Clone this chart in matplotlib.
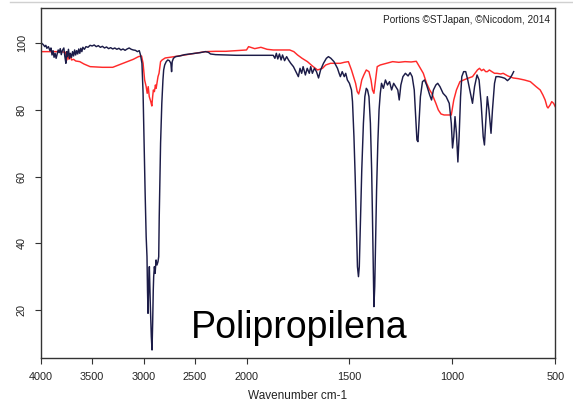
import matplotlib
matplotlib.use('Agg')
import matplotlib.pyplot as plt
from matplotlib.lines import Line2D
import numpy as np

# polypropylene sample spectrum (dark line)
pp_wn = [3990, 3975, 3960, 3950, 3940, 3925, 3910, 3900, 3890, 3880, 3870, 3860, 3850, 3840,
         3830, 3820, 3810, 3800, 3790, 3775, 3765, 3755, 3748, 3740, 3730, 3720, 3712, 3700,
         3690, 3680, 3670, 3660, 3650, 3640, 3630, 3620, 3610, 3600, 3590, 3575, 3560, 3540,
         3520, 3500, 3480, 3460, 3440, 3420, 3400, 3380, 3360, 3340, 3320, 3300, 3280, 3260,
         3240, 3220, 3200, 3180, 3160, 3140, 3120, 3100, 3080, 3060, 3042, 3030, 3016, 3005,
         2995, 2985, 2975, 2967, 2962, 2957, 2950, 2944, 2935, 2925, 2918, 2912, 2906, 2902,
         2895, 2888, 2879, 2870, 2860, 2853, 2848, 2843, 2835, 2823, 2812, 2805, 2795, 2780,
         2765, 2750, 2735, 2728, 2722, 2710, 2690, 2650, 2600, 2550, 2500, 2450, 2400, 2370,
         2350, 2300, 2200, 2100, 2000, 1900, 1870, 1862, 1855, 1848, 1840, 1832, 1825, 1815,
         1805, 1796, 1785, 1772, 1760, 1748, 1740, 1732, 1725, 1714, 1705, 1695, 1688, 1680,
         1670, 1660, 1650, 1640, 1626, 1612, 1602, 1590, 1575, 1558, 1550, 1544, 1535, 1525,
         1518, 1510, 1500, 1490, 1485, 1478, 1472, 1466, 1461, 1456, 1452, 1446, 1440, 1432,
         1425, 1418, 1412, 1405, 1398, 1392, 1388, 1384, 1381, 1377, 1373, 1368, 1362, 1356,
         1350, 1344, 1335, 1325, 1315, 1305, 1295, 1285, 1275, 1265, 1258, 1250, 1240, 1228,
         1215, 1205, 1195, 1185, 1178, 1172, 1167, 1162, 1155, 1145, 1135, 1125, 1110, 1101,
         1092, 1080, 1071, 1060, 1045, 1030, 1015, 1005, 999, 993, 987, 980, 973, 967,
         960, 954, 945, 935, 925, 915, 902, 892, 880, 870, 860, 850, 844, 838,
         830, 822, 812, 805, 795, 788, 775, 760, 745, 732, 720, 710, 702]
pp_t = [100.0, 99.6, 99.0, 99.4, 98.5, 99.0, 97.8, 98.6, 96.5, 97.8, 95.8, 97.0, 95.5, 96.8,
        98.0, 97.2, 98.4, 96.6, 97.8, 98.6, 96.0, 94.0, 97.5, 96.0, 98.2, 95.5, 97.0, 95.8,
        97.5, 96.2, 98.0, 96.5, 97.8, 96.8, 98.3, 97.0, 98.5, 97.5, 98.8, 98.2, 99.0, 98.8,
        99.4, 99.2, 99.5, 99.0, 99.3, 98.8, 99.1, 98.6, 98.9, 98.4, 98.7, 98.3, 98.6, 98.2,
        98.5, 98.0, 98.3, 97.9, 98.3, 98.6, 98.2, 98.0, 97.9, 97.5, 97.8, 96.5, 94.0, 85.0,
        70.0, 55.0, 42.0, 36.0, 26.0, 19.0, 28.0, 33.0, 22.0, 12.0, 8.0, 16.0, 26.0, 30.0,
        33.0, 31.0, 35.0, 33.5, 34.5, 36.0, 48.0, 57.0, 70.0, 82.0, 89.0, 92.0, 93.5, 94.5,
        95.0, 94.8, 94.0, 91.5, 94.5, 95.5, 96.0, 96.2, 96.6, 96.8, 97.0, 97.2, 97.5, 97.3,
        96.8, 96.6, 96.5, 96.4, 96.4, 96.4, 96.4, 95.5, 97.0, 95.3, 96.8, 95.0, 96.5, 94.8,
        96.0, 95.0, 94.0, 93.0, 91.5, 90.0, 92.5, 91.0, 93.0, 90.5, 92.5, 91.0, 93.0, 91.0,
        92.5, 91.5, 89.6, 92.0, 94.0, 95.5, 96.0, 95.5, 94.5, 92.5, 91.0, 90.0, 91.5, 90.0,
        91.0, 89.0, 88.0, 86.0, 82.5, 72.0, 60.0, 45.0, 33.0, 30.0, 33.0, 48.0, 62.0, 76.0,
        84.0, 86.5, 86.0, 84.0, 76.0, 62.0, 48.0, 32.0, 21.0, 27.0, 40.0, 56.0, 70.0, 80.0,
        85.0, 88.0, 86.5, 89.0, 87.5, 88.5, 86.0, 88.0, 87.0, 86.0, 83.0, 87.5, 90.0, 91.0,
        90.2, 91.2, 90.0, 86.0, 78.0, 71.0, 70.5, 76.0, 84.0, 88.5, 89.0, 87.5, 84.5, 83.0,
        86.0, 87.5, 88.0, 87.0, 85.0, 84.0, 82.0, 76.0, 68.6, 72.0, 78.0, 73.0, 64.4, 72.0,
        84.0, 90.0, 91.5, 91.5, 89.0, 86.0, 82.0, 87.0, 90.5, 89.0, 82.0, 72.0, 69.5, 76.0,
        84.0, 80.0, 73.0, 80.0, 88.0, 90.0, 90.0, 89.8, 89.5, 88.8, 89.5, 90.5, 91.5]

# reference spectrum (red line)
ref_wn = [4000, 3900, 3800, 3760, 3745, 3735, 3725, 3715, 3700, 3680, 3660, 3620, 3580, 3520,
          3400, 3300, 3200, 3100, 3050, 3020, 3005, 2990, 2975, 2965, 2955, 2945, 2930, 2920,
          2912, 2905, 2895, 2885, 2878, 2870, 2860, 2850, 2835, 2820, 2790, 2700, 2600, 2500,
          2400, 2300, 2200, 2100, 2000, 1990, 1960, 1930, 1900, 1870, 1820, 1790, 1770, 1752,
          1730, 1704, 1680, 1655, 1640, 1631, 1615, 1592, 1570, 1544, 1525, 1505, 1490, 1480,
          1470, 1462, 1455, 1448, 1440, 1430, 1418, 1405, 1395, 1388, 1381, 1375, 1365, 1350,
          1320, 1290, 1260, 1230, 1200, 1175, 1160, 1141, 1125, 1110, 1100, 1080, 1068, 1055,
          1040, 1020, 1005, 993, 980, 963, 945, 925, 902, 890, 878, 868, 858, 848,
          838, 830, 820, 808, 795, 783, 765, 753, 730, 704, 680, 650, 621, 593,
          573, 560, 549, 540, 535, 525, 517, 508, 500]
ref_t = [97.5, 97.5, 97.5, 97.3, 95.0, 96.8, 95.2, 96.5, 95.0, 95.2, 94.7, 94.5, 93.8, 93.0,
         92.8, 92.8, 94.0, 95.2, 96.0, 96.2, 94.0, 89.0, 87.0, 85.0, 87.0, 84.0, 82.5, 81.2,
         84.0, 86.0, 85.5, 87.5, 86.5, 88.0, 90.0, 91.0, 94.5, 95.0, 95.6, 96.0, 96.5, 97.0,
         97.5, 97.6, 97.6, 97.8, 98.0, 99.0, 98.4, 98.8, 98.2, 98.0, 98.0, 98.0, 97.5, 96.5,
         95.5, 94.5, 93.2, 92.0, 92.3, 92.5, 93.5, 94.0, 94.0, 94.0, 94.3, 94.5, 92.0, 90.0,
         88.0, 85.5, 84.8, 86.5, 89.0, 90.5, 92.0, 91.5, 89.0, 86.0, 85.0, 88.0, 93.0, 93.5,
         94.0, 94.5, 94.3, 94.5, 94.4, 94.6, 93.0, 91.0, 88.0, 86.0, 85.0, 82.0, 80.0, 78.8,
         78.5, 78.5, 78.5, 83.0, 86.0, 88.5, 89.0, 89.5, 90.0, 91.0, 92.0, 92.5, 91.8, 92.2,
         91.5, 91.5, 92.0, 91.5, 91.0, 91.0, 90.8, 91.0, 90.2, 89.6, 89.4, 89.0, 88.5, 87.0,
         86.0, 84.5, 83.0, 81.0, 80.6, 81.5, 82.5, 82.0, 81.0]

x_ticks = [4000, 3500, 3000, 2500, 2000, 1500, 1000, 500]
y_ticks = [20, 40, 60, 80, 100]

plt.rcParams['font.family'] = ['Liberation Sans', 'DejaVu Sans']


# IR convention: region above 2000 cm-1 is drawn at half scale
def fwd(w):
    w = np.asarray(w, dtype=float)
    return np.where(w > 2000, 2000 + (w - 2000) / 2.0, w)


def inv(t):
    t = np.asarray(t, dtype=float)
    return np.where(t > 2000, 2000 + (t - 2000) * 2.0, t)


fig = plt.figure(figsize=(5.73, 4.09), dpi=100)
ax = fig.add_axes([0.071, 0.1247, 0.898, 0.855])
ax.set_xscale('function', functions=(fwd, inv))

ax.plot(ref_wn, ref_t, color='#ff2a2a', lw=1.05)
ax.plot(pp_wn, pp_t, color='#1c1c48', lw=1.05)

ax.set_xlim(4000, 500)
ax.set_ylim(5.6, 110.5)
ax.set_xticks(x_ticks)
ax.set_xticklabels([str(v) for v in x_ticks])
ax.set_yticks(y_ticks)
ax.set_yticklabels([str(v) for v in y_ticks])
ax.minorticks_off()

ax.tick_params(axis='both', direction='out', length=4, width=0.8, colors='#333333',
               labelsize=7.8, labelcolor='#222222')
ax.tick_params(axis='x', pad=6)
ax.tick_params(axis='y', labelrotation=90, pad=6)
for lab in ax.get_yticklabels():
    lab.set_va('center')

for s in ax.spines.values():
    s.set_color('#333333')
    s.set_linewidth(1.0)

ax.set_xlabel('Wavenumber cm-1', fontsize=8.5, color='#222222', labelpad=6)

ax.text(0.99, 0.966, 'Portions \u00a9STJapan, \u00a9Nicodom, 2014', transform=ax.transAxes,
        ha='right', va='center', fontsize=7.2, color='#222222')
ax.text(0.292, 0.057, 'Polipropilena', transform=ax.transAxes, ha='left', va='baseline',
        fontsize=27, color='black')

# thin light frame line along the top of the picture
fig.add_artist(Line2D([10 / 573, 1.0], [1 - 2 / 409, 1 - 2 / 409], transform=fig.transFigure,
                      color='#d0d0d0', lw=1.0))

fig.savefig('out.png', dpi=100)
